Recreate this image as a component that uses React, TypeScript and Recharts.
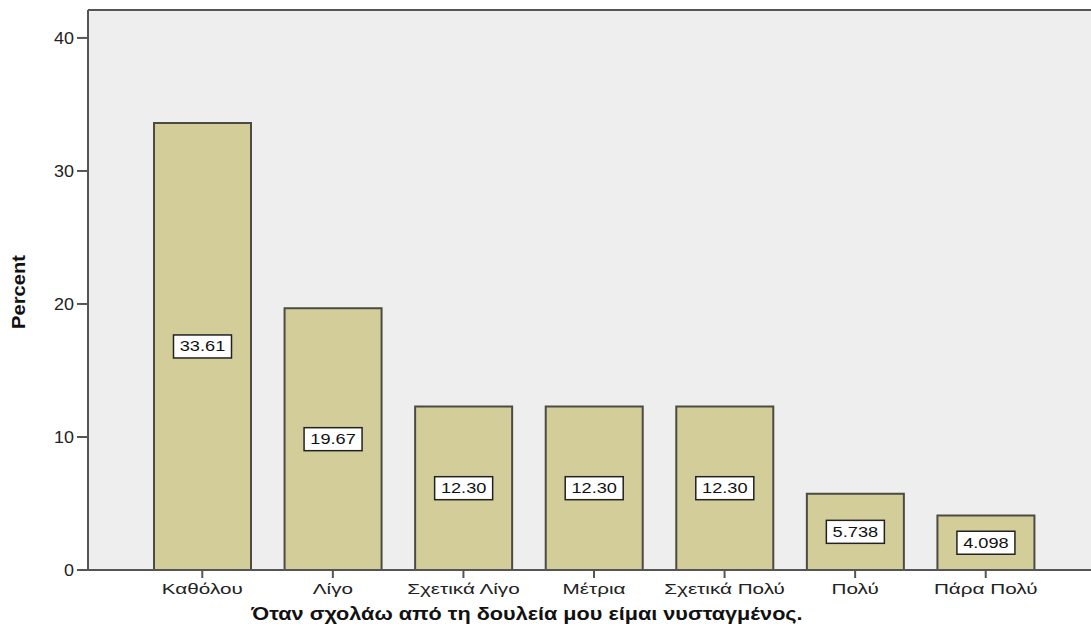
import React from "react";
import {
  Bar,
  BarChart,
  CartesianGrid,
  LabelList,
  ReferenceLine,
  XAxis,
  YAxis,
} from "recharts";

// Response categories and percentages
const categories = [
  "Καθόλου",
  "Λίγο",
  "Σχετικά Λίγο",
  "Μέτρια",
  "Σχετικά Πολύ",
  "Πολύ",
  "Πάρα Πολύ",
];
const percents = [33.61, 19.67, 12.3, 12.3, 12.3, 5.738, 4.098];
const yTicks = [0, 10, 20, 30, 40];
const Y_MAX = 42.1;

const xTitle = "Όταν σχολάω από τη δουλεία μου είμαι νυσταγμένος.";
const yTitle = "Percent";

const data = categories.map((name, i) => ({ name, value: percents[i] }));

const FONT = "'Liberation Sans', Arial, sans-serif";
const AXIS = "#555555";
const PLOT_BG = "#eeeeee";
const BAR_FILL = "#d3ce99";
const BAR_STROKE = "#4b4b44";

// text here is drawn horizontally widened, so each label gets its own scaleX
function XTick(props: any) {
  const { x, y, payload } = props;
  return (
    <g transform={`translate(${x},${y + 14}) scale(1.38,1)`}>
      <text textAnchor="middle" fontFamily={FONT} fontSize={15} fill="#222">
        {payload.value}
      </text>
    </g>
  );
}

function YTick(props: any) {
  const { x, y, payload } = props;
  return (
    <g transform={`translate(${x},${y + 6}) scale(1.12,1)`}>
      <text textAnchor="end" fontFamily={FONT} fontSize={16} fill="#222">
        {payload.value}
      </text>
    </g>
  );
}

function ValueBox(props: any) {
  const { x, y, width, height, value } = props;
  const cx = x + width / 2;
  const cy = y + height / 2;
  const w = 58;
  const h = 23;
  return (
    <g>
      <rect
        x={cx - w / 2}
        y={cy - h / 2}
        width={w}
        height={h}
        fill="#ffffff"
        stroke="#222"
        strokeWidth={1.5}
      />
      <g transform={`translate(${cx},${cy + 5}) scale(1.3,1)`}>
        <text textAnchor="middle" fontFamily={FONT} fontSize={14} fill="#111">
          {Number(value).toPrecision(4)}
        </text>
      </g>
    </g>
  );
}

export default function App() {
  return (
    <div
      style={{
        position: "absolute",
        left: 0,
        top: 0,
        width: 1091,
        height: 629,
        overflow: "hidden",
        background: "#fff",
      }}
    >
      <BarChart
        width={1100}
        height={629}
        data={data}
        margin={{ top: 10, right: 0, left: 0, bottom: 0 }}
      >
        <CartesianGrid
          horizontal={false}
          vertical={false}
          fill={PLOT_BG}
          fillOpacity={1}
        />
        <XAxis
          dataKey="name"
          height={59}
          padding={{ left: 49, right: 49 }}
          axisLine={{ stroke: AXIS, strokeWidth: 2 }}
          tickLine={{ stroke: AXIS, strokeWidth: 2 }}
          tickSize={8}
          tick={<XTick />}
          interval={0}
        />
        <YAxis
          width={88}
          domain={[0, Y_MAX]}
          ticks={yTicks}
          axisLine={{ stroke: AXIS, strokeWidth: 2 }}
          tickLine={{ stroke: AXIS, strokeWidth: 2 }}
          tickSize={11}
          tickMargin={3}
          tick={<YTick />}
          allowDataOverflow
        />
        <ReferenceLine y={Y_MAX} stroke={AXIS} strokeWidth={2} ifOverflow="visible" />
        <Bar
          dataKey="value"
          barSize={97}
          fill={BAR_FILL}
          stroke={BAR_STROKE}
          strokeWidth={2}
          isAnimationActive={false}
        >
          <LabelList dataKey="value" content={<ValueBox />} />
        </Bar>
      </BarChart>
      <svg
        width={1091}
        height={629}
        style={{ position: "absolute", left: 0, top: 0, pointerEvents: "none" }}
      >
        <g transform="translate(527,620) scale(1.14,1)">
          <text
            textAnchor="middle"
            fontFamily={FONT}
            fontWeight="bold"
            fontSize={19}
            fill="#111"
          >
            {xTitle}
          </text>
        </g>
        <g transform="translate(25,292) rotate(-90) scale(1.12,1)">
          <text
            textAnchor="middle"
            fontFamily={FONT}
            fontWeight="bold"
            fontSize={18}
            fill="#111"
          >
            {yTitle}
          </text>
        </g>
      </svg>
    </div>
  );
}
